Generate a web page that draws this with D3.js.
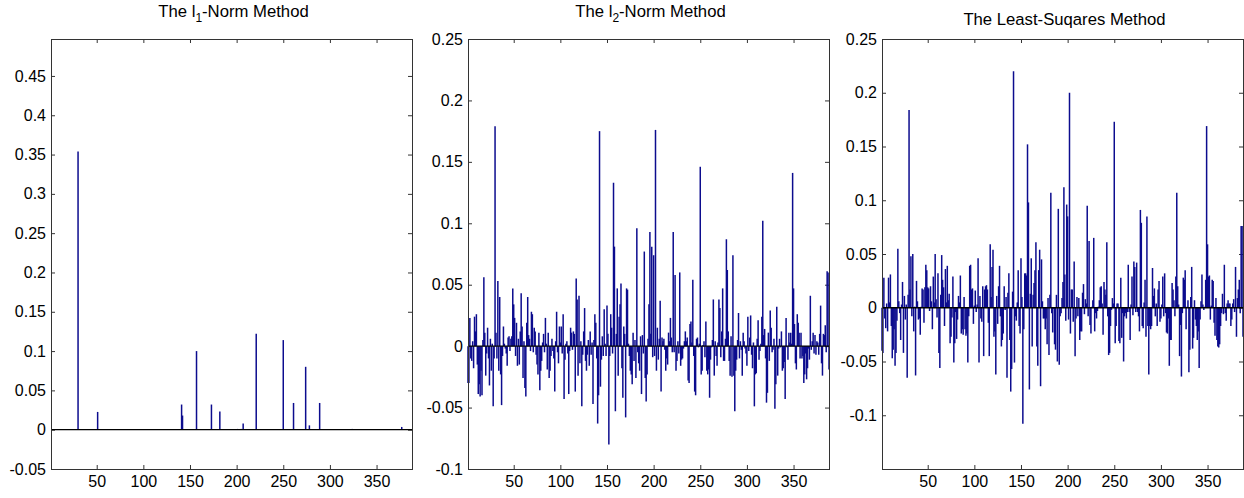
<!DOCTYPE html>
<html>
<head>
<meta charset="utf-8">
<style>
  body { margin: 0; background: #fff; }
  svg { display: block; }
  .tick text { font-family: "Liberation Sans", Arial, sans-serif; font-size: 16px; fill: #000; }
  .tick line { stroke: #333; }
  .title { font-family: "Liberation Sans", Arial, sans-serif; font-size: 16.7px; fill: #000; }
  .frame { fill: none; stroke: #333; stroke-width: 1; }
  .stem { stroke: #0c0c8e; stroke-width: 1.5; }
  .baseline { stroke: #000; stroke-width: 1.3; }
</style>
</head>
<body>
<svg width="1244" height="498"></svg>
<script src="https://d3js.org/d3.v7.min.js"></script>
<script>
// x ticks shared by the three panels
var xTicks = [50, 100, 150, 200, 250, 300, 350];

// l1-norm solution is sparse: only the non-zero entries
var l1Index = [30, 51, 118, 141, 142, 150, 157, 173, 182, 201, 205, 207, 221, 250, 261, 274, 278, 289, 324, 377];
var l1Value = [0.354, 0.0226, 0.001, 0.032, 0.018, 0.001, 0.100, 0.032, 0.023, 0.001, 0.001, 0.008, 0.122, 0.114, 0.034, 0.080, 0.0055, 0.034, 0.001, 0.0035];

// l2-norm solution, index 1..388
var l2Value = [
  -0.030, -0.030, 0.023, -0.010, -0.012, 0.004, -0.018, 0.024, 0.012, 0.026,
  -0.015, -0.039, -0.031, -0.041, -0.020, -0.040, 0.005, 0.056, 0.011, -0.024,
  -0.006, 0.015, -0.010, -0.032, 0.006, -0.020, 0.002, -0.049, -0.010, 0.179,
  0.011, -0.010, 0.053, -0.020, 0.040, -0.023, -0.048, -0.008, 0.016, 0.002,
  -0.002, -0.006, -0.016, 0.007, 0.008, -0.004, 0.006, 0.008, 0.047, 0.034,
  0.023, -0.008, 0.019, -0.016, 0.006, -0.015, 0.012, 0.043, 0.016, -0.026,
  0.004, -0.034, -0.041, 0.019, 0.040, 0.009, 0.006, -0.004, 0.028, 0.026,
  -0.005, 0.015, 0.012, -0.007, -0.015, -0.023, 0.011, -0.036, -0.020, -0.012,
  0.003, 0.010, -0.005, 0.023, 0.002, -0.019, 0.011, -0.026, -0.020, -0.008,
  0.006, -0.004, -0.010, -0.037, 0.004, 0.028, -0.005, -0.014, 0.016, 0.003,
  0.016, -0.006, 0.026, -0.043, -0.011, 0.002, 0.004, -0.006, -0.039, -0.004,
  0.015, 0.011, -0.003, 0.012, 0.010, -0.037, 0.055, 0.038, -0.024, 0.041,
  -0.014, 0.004, -0.049, -0.007, 0.012, 0.031, -0.012, -0.020, -0.007, 0.005,
  -0.016, 0.012, -0.007, 0.003, -0.047, 0.005, 0.026, 0.019, -0.010, -0.063,
  -0.040, 0.175, -0.033, -0.011, 0.008, -0.008, 0.030, 0.002, -0.008, 0.033,
  0.010, -0.080, -0.008, 0.026, 0.015, -0.006, 0.133, 0.081, -0.053, 0.010,
  0.047, -0.024, 0.024, 0.034, 0.051, -0.018, -0.042, 0.016, 0.010, -0.058,
  0.047, 0.046, 0.002, -0.008, -0.020, -0.023, -0.031, 0.011, -0.012, 0.005,
  -0.026, 0.096, -0.005, -0.014, -0.020, 0.008, -0.039, 0.009, -0.006, 0.077,
  -0.026, -0.045, -0.023, 0.006, 0.034, 0.093, 0.010, 0.081, -0.009, 0.074,
  -0.008, 0.176, -0.020, 0.015, -0.011, 0.006, 0.037, -0.037, 0.007, 0.004,
  0.006, -0.003, -0.020, -0.010, -0.015, 0.011, 0.004, 0.023, 0.007, -0.005,
  0.093, -0.005, 0.058, -0.020, -0.012, 0.004, -0.006, 0.060, -0.016, -0.011,
  -0.010, -0.002, 0.004, 0.012, 0.004, 0.007, -0.028, -0.030, 0.018, 0.020,
  0.003, 0.054, -0.008, -0.037, -0.040, 0.006, 0.007, -0.001, 0.002, 0.146,
  -0.023, -0.020, 0.001, 0.004, -0.009, 0.020, -0.020, -0.023, -0.019, -0.042,
  -0.011, -0.001, 0.005, 0.038, -0.024, 0.004, -0.008, -0.016, 0.003, 0.038,
  0.031, -0.009, 0.012, 0.047, -0.012, -0.012, 0.006, 0.087, 0.062, 0.012,
  -0.012, -0.024, 0.008, -0.025, 0.074, -0.024, -0.053, -0.020, -0.011, 0.005,
  0.027, -0.010, 0.004, -0.003, -0.024, 0.011, 0.004, -0.002, -0.006, -0.016,
  0.024, -0.004, 0.007, 0.025, -0.007, -0.018, 0.003, -0.049, -0.023, -0.022,
  0.006, 0.021, -0.011, -0.004, 0.002, 0.024, 0.102, 0.009, 0.014, -0.010,
  -0.046, -0.038, 0.011, -0.012, 0.029, 0.015, -0.005, -0.003, 0.006, -0.051,
  -0.031, 0.032, -0.024, -0.002, 0.006, -0.001, 0.012, -0.020, -0.018, -0.013,
  -0.043, 0.023, -0.001, -0.011, 0.011, 0.003, 0.011, 0.002, 0.141, 0.047,
  0.018, -0.014, -0.019, 0.026, 0.019, 0.011, -0.010, 0.011, -0.010, -0.008,
  -0.030, -0.023, -0.006, -0.027, -0.018, -0.002, -0.011, 0.041, -0.003, 0.004,
  0.011, -0.006, 0.009, -0.007, 0.004, 0.003, -0.007, 0.010, 0.033, -0.014,
  -0.024, 0.010, 0.009, 0.017, -0.005, 0.061, 0.060, -0.019
];

// least-squares solution, index 1..388
var lsValue = [
  -0.040, -0.042, 0.028, -0.010, -0.019, 0.004, -0.022, 0.028, 0.005, 0.031,
  -0.017, -0.047, -0.039, -0.020, -0.054, -0.042, -0.012, 0.055, 0.006, -0.005,
  -0.030, 0.003, 0.024, -0.042, 0.011, -0.011, 0.003, -0.065, 0.012, 0.184,
  0.017, 0.048, -0.008, 0.050, -0.022, 0.001, -0.063, 0.025, 0.006, -0.011,
  -0.010, -0.025, 0.001, 0.018, 0.017, -0.014, 0.019, 0.040, 0.035, 0.019,
  0.018, -0.003, 0.020, 0.006, -0.020, 0.029, 0.005, 0.050, 0.008, -0.009,
  0.032, -0.042, -0.056, 0.012, 0.049, 0.026, 0.019, -0.017, 0.036, 0.005,
  0.039, 0.007, 0.013, -0.033, -0.027, -0.009, 0.029, -0.051, -0.033, -0.004,
  -0.029, -0.011, 0.011, 0.005, 0.030, -0.024, -0.020, -0.025, 0.010, -0.020,
  -0.026, -0.024, -0.051, -0.008, 0.039, 0.040, 0.017, 0.018, -0.015, 0.002,
  0.016, -0.004, 0.003, 0.046, -0.051, 0.011, -0.010, -0.013, 0.020, -0.045,
  0.017, 0.020, 0.021, 0.017, -0.014, -0.045, 0.059, 0.010, 0.038, 0.054,
  -0.027, -0.022, -0.062, 0.011, -0.015, 0.020, 0.039, -0.008, -0.036, -0.030,
  -0.024, 0.020, -0.002, 0.010, -0.065, 0.014, 0.032, -0.030, -0.078, -0.057,
  0.015, 0.220, -0.051, -0.008, -0.012, 0.005, 0.035, -0.017, -0.024, 0.046,
  0.010, -0.108, -0.020, 0.032, 0.032, 0.030, 0.152, 0.098, -0.076, 0.013,
  0.046, -0.036, 0.012, 0.023, 0.035, 0.061, -0.036, -0.054, 0.035, 0.054,
  -0.073, 0.045, 0.006, -0.010, -0.010, -0.020, -0.010, -0.034, 0.009, -0.044,
  0.012, 0.107, -0.005, -0.023, -0.001, -0.034, -0.039, 0.012, -0.050, 0.092,
  -0.053, -0.008, -0.005, 0.009, 0.024, 0.112, 0.031, -0.012, 0.096, 0.085,
  -0.011, 0.200, -0.024, 0.017, 0.017, -0.013, 0.043, -0.045, -0.010, 0.010,
  -0.008, 0.009, -0.030, -0.022, -0.022, 0.014, 0.022, -0.006, 0.008, 0.004,
  0.095, -0.008, 0.062, -0.016, -0.024, 0.001, 0.007, 0.065, -0.022, -0.005,
  -0.010, -0.003, 0.001, 0.007, 0.019, 0.020, 0.004, -0.025, 0.024, 0.017,
  0.012, 0.061, -0.008, -0.044, -0.042, -0.017, -0.002, 0.009, 0.004, 0.173,
  -0.033, -0.017, 0.004, 0.004, -0.031, -0.033, 0.028, -0.028, -0.005, -0.050,
  -0.008, -0.005, -0.010, -0.004, 0.040, -0.004, -0.030, 0.003, 0.029, -0.007,
  0.043, 0.038, -0.004, 0.042, -0.004, -0.008, -0.022, 0.091, 0.079, -0.017,
  -0.019, 0.005, 0.026, -0.027, 0.085, -0.017, -0.062, -0.017, -0.020, -0.017,
  0.037, 0.011, 0.018, -0.008, 0.004, -0.017, 0.017, 0.025, -0.013, -0.010,
  0.003, 0.029, -0.008, 0.032, -0.005, -0.023, -0.024, -0.010, -0.054, -0.030,
  -0.030, 0.023, 0.017, 0.007, -0.008, 0.029, 0.107, 0.020, 0.003, -0.045,
  -0.016, -0.064, -0.005, 0.028, 0.026, 0.035, -0.020, 0.001, 0.007, -0.060,
  -0.039, 0.010, 0.038, -0.038, -0.028, 0.007, -0.011, -0.017, -0.030, -0.022,
  -0.056, -0.011, 0.006, 0.031, 0.003, -0.002, 0.001, 0.026, 0.169, 0.059,
  0.029, 0.030, -0.011, 0.002, 0.026, 0.025, -0.014, -0.026, 0.009, -0.030,
  -0.036, -0.037, -0.034, -0.017, -0.005, 0.013, -0.006, 0.040, -0.005, -0.012,
  0.004, 0.007, 0.004, 0.004, -0.017, -0.011, 0.004, 0.008, -0.004, 0.038,
  -0.027, 0.009, 0.017, 0.026, -0.005, 0.076, 0.076, -0.027
];

var l1Ticks = [-0.05, 0, 0.05, 0.1, 0.15, 0.2, 0.25, 0.3, 0.35, 0.4, 0.45];
var l2Ticks = [-0.1, -0.05, 0, 0.05, 0.1, 0.15, 0.2, 0.25];
var lsTicks = [-0.1, -0.05, 0, 0.05, 0.1, 0.15, 0.2, 0.25];

var svg = d3.select("svg");
var fmt = function(d) { return String(+d.toFixed(2)); };

function toPoints(index, values) {
  return values.map(function(v, k) { return {i: index ? index[k] : k + 1, v: v}; });
}

var panels = [
  {left: 51, right: 412, yDomain: [-0.05, 0.497], yTicks: l1Ticks, data: toPoints(l1Index, l1Value),
   title: ["The l", "1", "-Norm Method"], titleY: 17},
  {left: 468, right: 829, yDomain: [-0.1, 0.25], yTicks: l2Ticks, data: toPoints(null, l2Value),
   title: ["The l", "2", "-Norm Method"], titleY: 17},
  {left: 882, right: 1243, yDomain: [-0.15, 0.25], yTicks: lsTicks, data: toPoints(null, lsValue),
   title: ["The Least-Suqares Method"], titleY: 25}
];

var plotTop = 39, plotBottom = 469;

panels.forEach(function(p) {
  var w = p.right - p.left, h = plotBottom - plotTop;
  var x = d3.scaleLinear().domain([1, 388]).range([0, w]);
  var y = d3.scaleLinear().domain(p.yDomain).range([h, 0]);

  var g = svg.append("g").attr("transform", "translate(" + p.left + "," + plotTop + ")");

  g.append("g")
    .attr("transform", "translate(0," + h + ")")
    .call(d3.axisBottom(x).tickValues(xTicks).tickSize(-4).tickSizeOuter(0).tickPadding(7))
    .call(function(a) { a.select(".domain").remove(); });
  g.append("g")
    .call(d3.axisTop(x).tickValues(xTicks).tickSize(-4).tickSizeOuter(0).tickFormat(""))
    .call(function(a) { a.select(".domain").remove(); });
  g.append("g")
    .call(d3.axisLeft(y).tickValues(p.yTicks).tickSize(-4).tickSizeOuter(0).tickPadding(5).tickFormat(fmt))
    .call(function(a) { a.select(".domain").remove(); });
  g.append("g")
    .attr("transform", "translate(" + w + ",0)")
    .call(d3.axisRight(y).tickValues(p.yTicks).tickSize(-4).tickSizeOuter(0).tickFormat(""))
    .call(function(a) { a.select(".domain").remove(); });

  g.selectAll(".stem")
    .data(p.data)
    .enter()
    .append("line")
    .attr("class", "stem")
    .attr("x1", function(d) { return x(d.i); })
    .attr("x2", function(d) { return x(d.i); })
    .attr("y1", y(0))
    .attr("y2", function(d) { return y(d.v); });

  g.append("line")
    .attr("class", "baseline")
    .attr("x1", 0).attr("x2", w)
    .attr("y1", y(0)).attr("y2", y(0));

  g.append("rect")
    .attr("class", "frame")
    .attr("x", 0.5).attr("y", 0.5)
    .attr("width", w).attr("height", h);

  var t = svg.append("text")
    .attr("class", "title")
    .attr("x", (p.left + p.right) / 2 + 2)
    .attr("y", p.titleY)
    .attr("text-anchor", "middle");
  t.append("tspan").text(p.title[0]);
  if (p.title.length > 1) {
    t.append("tspan").attr("dy", 5).style("font-size", "12px").text(p.title[1]);
    t.append("tspan").attr("dy", -5).text(p.title[2]);
  }
});
</script>
</body>
</html>
